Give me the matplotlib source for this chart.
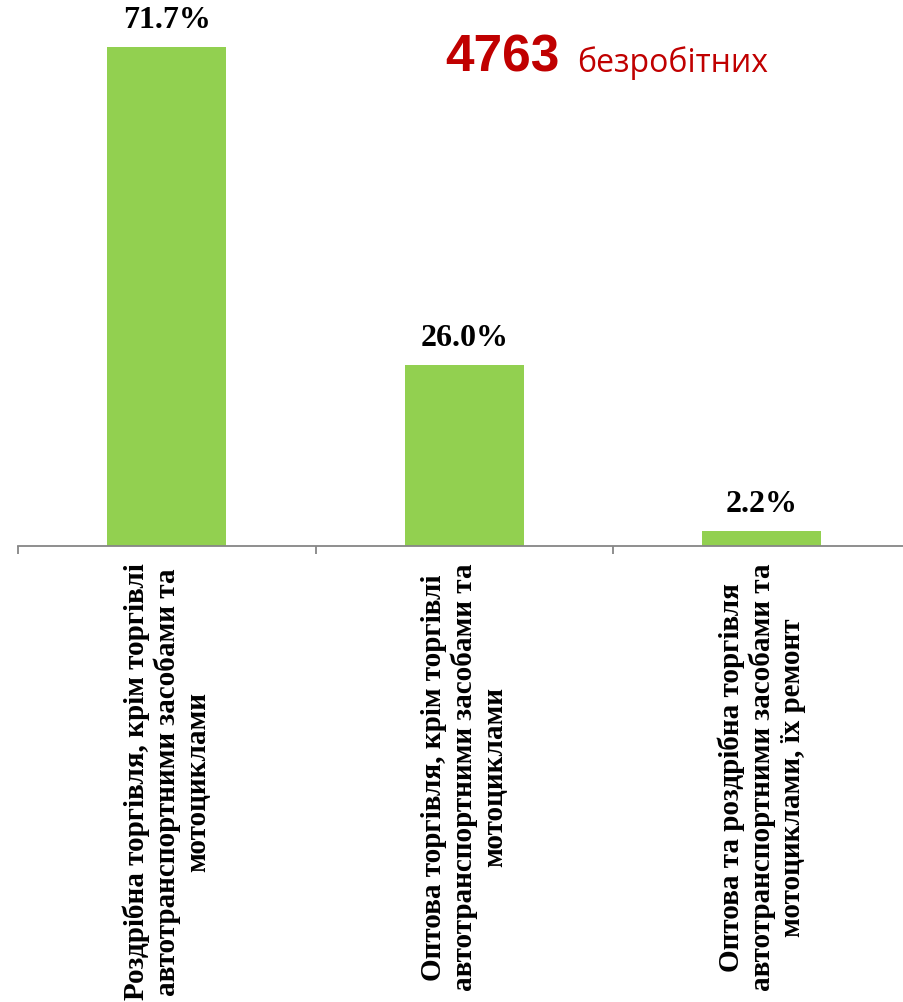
import matplotlib.pyplot as plt

categories = [
    "Роздрібна торгівля, крім торгівлі\nавтотранспортними засобами та\nмотоциклами",
    "Оптова торгівля, крім торгівлі\nавтотранспортними засобами та\nмотоциклами",
    "Оптова та роздрібна торгівля\nавтотранспортними засобами та\nмотоциклами, їх ремонт",
]
shares = [71.7, 26.0, 2.2]
total_unemployed = 4763

fig = plt.figure(figsize=(9.04, 10.03), dpi=100)
ax = fig.add_axes([18 / 904, 456 / 1003, 892.5 / 904, 543 / 1003])

x = list(range(len(categories)))
ax.bar(x, shares, width=0.4, color="#92D050", zorder=2)
ax.set_xlim(-0.5, 2.5)
ax.set_ylim(0, 78)

for xi, v in zip(x, shares):
    ax.annotate(f"{v:.1f}%", (xi, v), xytext=(0, 9), textcoords="offset points",
                ha="center", va="bottom", fontsize=23, fontweight="bold",
                family="Liberation Serif")

for s in ["top", "right", "left"]:
    ax.spines[s].set_visible(False)
ax.spines["bottom"].set_color("#868686")
ax.spines["bottom"].set_linewidth(1.3)
ax.set_yticks([])

ax.set_xticks([-0.5, 0.5, 1.5, 2.5])
ax.set_xticklabels([])
ax.tick_params(axis="x", which="major", length=6, width=1.3, color="#868686")
ax.set_xticks(x, minor=True)
ax.set_xticklabels(categories, minor=True, rotation=90, fontsize=21,
                   fontweight="bold", family="Liberation Serif",
                   multialignment="center", linespacing=1.15)
ax.tick_params(axis="x", which="minor", length=0, pad=12)

fig.text(445 / 904, 1 - 72 / 1003, f"{total_unemployed}", color="#C00000",
         fontsize=37, fontweight="bold", family="Liberation Sans", va="baseline")
fig.text(577 / 904, 1 - 72 / 1003, "безробітних", color="#C00000",
         fontsize=23, family="Open Sans", va="baseline")

fig.savefig("out.png", dpi=100)
